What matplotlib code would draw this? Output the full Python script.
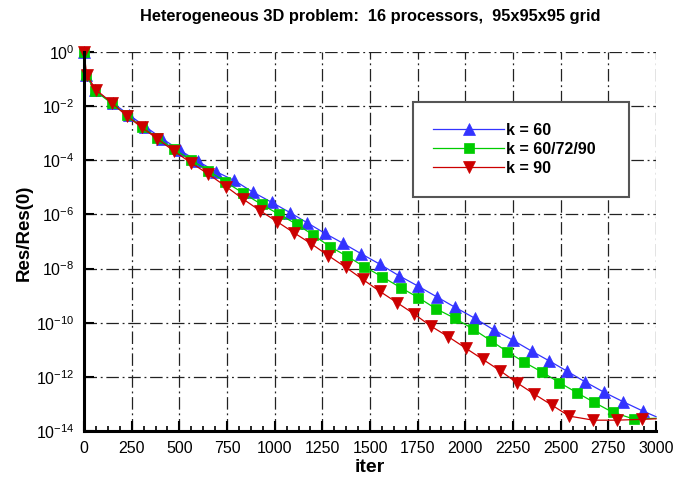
import matplotlib
matplotlib.use("Agg")
import matplotlib.pyplot as plt
import numpy as np
from matplotlib.ticker import FixedLocator, NullLocator, MultipleLocator

plt.rcParams['font.family'] = ['Liberation Sans', 'DejaVu Sans']
plt.rcParams['mathtext.fontset'] = 'custom'
plt.rcParams['mathtext.rm'] = 'Liberation Sans'
plt.rcParams['mathtext.it'] = 'Liberation Sans'
plt.rcParams['mathtext.bf'] = 'Liberation Sans:bold'

title = "Heterogeneous 3D problem:  16 processors,  95x95x95 grid"
xlabel = "iter"
ylabel = "Res/Res(0)"

labels = ["k = 60", "k = 60/72/90", "k = 90"]

# k = 60 (blue): iteration and -log10(residual)
iter_k60 = [0, 10, 60, 150, 236, 322, 410, 503, 598, 692, 787, 884, 984, 1080,
            1171, 1264, 1357, 1453, 1552, 1651, 1750, 1849, 1946, 2051, 2150,
            2248, 2348, 2440, 2531, 2627, 2728, 2828, 2930, 3000]
nlog_k60 = [0, 0.85, 1.42, 1.88, 2.32, 2.76, 3.20, 3.63, 4.04, 4.42, 4.74, 5.17,
            5.55, 5.93, 6.31, 6.70, 7.06, 7.45, 7.84, 8.26, 8.64, 9.04, 9.43,
            9.84, 10.27, 10.64, 11.05, 11.41, 11.78, 12.18, 12.57, 12.92, 13.26,
            13.47]

# k = 60/72/90 (green)
iter_kmix = [0, 10, 58, 145, 224, 302, 385, 472, 561, 652, 740, 832, 931, 1024,
             1115, 1202, 1290, 1381, 1470, 1563, 1662, 1753, 1845, 1946, 2042,
             2133, 2220, 2309, 2404, 2493, 2584, 2675, 2773, 2885, 3000]
nlog_kmix = [0, 0.85, 1.43, 1.90, 2.33, 2.76, 3.17, 3.59, 3.99, 4.38, 4.79, 5.20,
             5.63, 6.00, 6.36, 6.76, 7.19, 7.55, 7.93, 8.30, 8.71, 9.07, 9.48,
             9.84, 10.24, 10.66, 11.07, 11.46, 11.83, 12.21, 12.58, 12.94, 13.31,
             13.56, 13.53]

# k = 90 (red)
iter_k90 = [0, 14, 63, 145, 224, 302, 385, 472, 561, 652, 745, 832, 923, 1013,
            1102, 1193, 1281, 1372, 1462, 1551, 1642, 1732, 1818, 1911, 2002,
            2091, 2182, 2269, 2360, 2453, 2545, 2671, 2793, 2924, 3000]
nlog_k90 = [0, 0.85, 1.40, 1.87, 2.36, 2.78, 3.21, 3.66, 4.09, 4.51, 4.97, 5.42,
            5.86, 6.27, 6.68, 7.09, 7.52, 7.95, 8.40, 8.84, 9.26, 9.68, 10.12,
            10.52, 10.94, 11.35, 11.77, 12.21, 12.63, 13.04, 13.45, 13.60, 13.60,
            13.57, 13.55]

xticks = [0, 250, 500, 750, 1000, 1250, 1500, 1750, 2000, 2250, 2500, 2750, 3000]
yexps = [0, -2, -4, -6, -8, -10, -12, -14]

W, H = 675, 483
fig = plt.figure(figsize=(W / 100, H / 100), dpi=100)
ax = fig.add_axes([84 / W, 1 - 431 / H, (656 - 84) / W, (431 - 52) / H])

series = [
    (iter_k60, nlog_k60, '#3333ff', '^', 8.5),
    (iter_kmix, nlog_kmix, '#00cc00', 's', 7.2),
    (iter_k90, nlog_k90, '#cc0000', 'v', 8.5),
]
for (xs, nl, c, m, ms), lab in zip(series, labels):
    ys = 10.0 ** (-np.array(nl))
    ax.plot(xs, ys, color=c, lw=0.9, marker=m, ms=ms, mfc=c, mec=c, mew=0.5,
            markevery=slice(0, len(xs) - 1), label=lab, zorder=3, clip_on=False)

ax.set_yscale('log')
ax.set_xlim(0, 3000)
ax.set_ylim(1e-14, 1)

ax.xaxis.set_major_locator(FixedLocator(xticks))
ax.xaxis.set_minor_locator(MultipleLocator(62.5))
ax.yaxis.set_major_locator(FixedLocator([10.0 ** e for e in yexps]))
ax.yaxis.set_minor_locator(NullLocator())
ax.set_xticklabels([str(t) for t in xticks])
ax.set_yticklabels([r'$10^{%d}$' % e for e in yexps])

ax.tick_params(axis='both', which='major', direction='in', length=7, width=1.5,
               labelsize=11.5, pad=7, colors='black')
ax.tick_params(axis='x', which='minor', direction='in', length=3.5, width=1.2)
ax.tick_params(axis='y', which='major', pad=7)

for s in ['top', 'right']:
    ax.spines[s].set_visible(False)
for s in ['left', 'bottom']:
    ax.spines[s].set_linewidth(2.2)
    ax.spines[s].set_zorder(4)

ax.grid(True, which='major', color='#222222', lw=0.9, ls=(0, (10, 3, 1.5, 3)))
ax.set_axisbelow(True)

fig.text(370 / W, 1 - 17 / H, title, ha='center', va='center',
         fontsize=11.8, fontweight='bold')
fig.text(24 / W, 1 - 233 / H, ylabel, ha='center', va='center', rotation=90,
         fontsize=13.5, fontweight='bold')
fig.text(370 / W, 1 - 467 / H, xlabel, ha='center', va='center',
         fontsize=14, fontweight='bold')

leg_x0, leg_x1, leg_top = 412.7, 629.3, 102.3
leg = ax.legend(loc='upper left',
                bbox_to_anchor=(leg_x0 / W, 1 - leg_top / H,
                                (leg_x1 - leg_x0) / W, 0.0),
                bbox_transform=fig.transFigure, borderaxespad=0, mode='expand',
                fancybox=False, framealpha=1, edgecolor='#555555',
                prop={'weight': 'bold', 'size': 11.5}, handlelength=4.4,
                handletextpad=0.15, labelspacing=0.25, borderpad=1.3,
                markerscale=1.0)
leg.get_frame().set_linewidth(1.5)
leg.set_zorder(10)

fig.savefig('out.png', dpi=100)
